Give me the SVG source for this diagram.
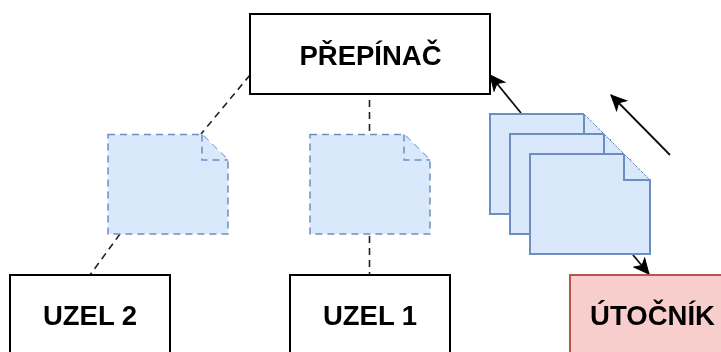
<svg xmlns="http://www.w3.org/2000/svg" width="721" height="352" viewBox="0 0 721 352">
<style>
.box{fill:#fff;stroke:#000;stroke-width:2}
.red{fill:#f8cecc;stroke:#b85450;stroke-width:2}
.docfill{fill:#dae8fc;stroke:none}
.doc{fill:none;stroke:#6c8ebf;stroke-width:2}
.diag{fill:none;stroke:#6c8ebf;stroke-width:1;stroke-dasharray:3 1}
.dashdoc{fill:#dae8fc;stroke:#6c8ebf;stroke-width:1.5;stroke-dasharray:7 5}
.dashed{fill:none;stroke:#222;stroke-width:1.6;stroke-dasharray:7 5}
.arrow{fill:none;stroke:#111;stroke-width:1.8}
.head{fill:#000;stroke:#000}
text{font-family:"Liberation Sans",Arial,sans-serif;font-weight:700;font-size:27.5px;fill:#000;text-anchor:middle}
</style>
<defs>
<filter id="soft" x="0" y="0" width="721" height="352" filterUnits="userSpaceOnUse"><feGaussianBlur stdDeviation="0.6"/></filter>
<marker id="arrow" viewBox="0 0 17 16" refX="16" refY="8" markerWidth="17" markerHeight="16" markerUnits="userSpaceOnUse" orient="auto">
<path class="head" d="M1 1 L16 8 L1 15 L5 8 Z"/>
</marker>
</defs>
<g filter="url(#soft)">
<g id="connectors">
<path class="dashed" d="M250 75 L201 134"/>
<path class="dashed" d="M120 234 L90 275"/>
<path class="dashed" d="M369.500 100 L369.500 134"/>
<path class="dashed" d="M369.500 236 L369.500 275"/>
<path class="arrow" d="M521 113 L490 75" marker-end="url(#arrow)"/>
<path class="arrow" d="M633 255 L649 274" marker-end="url(#arrow)"/>
<path class="arrow" d="M670 155 L611 95" marker-end="url(#arrow)"/>
</g>
<g id="prepinac"><rect class="box" x="250" y="14" width="240" height="80"/><text x="370.500" y="65">PŘEPÍNAČ</text></g>
<g id="uzel2"><rect class="box" x="10" y="275" width="160" height="90"/><text x="90" y="325">UZEL 2</text></g>
<g id="uzel1"><rect class="box" x="290" y="275" width="160" height="90"/><text x="370" y="325">UZEL 1</text></g>
<g id="utocnik"><rect class="red" x="570" y="275" width="160" height="90"/><text x="652.500" y="325">ÚTOČNÍK</text></g>
<g id="packet-dashed-1"><path class="dashdoc" d="M108 134.500 H202 L228 160 V234 H108 Z"/><path class="dashdoc" d="M202 134.500 V160 H228" fill="none"/></g>
<g id="packet-dashed-2"><path class="dashdoc" d="M310 134.500 H404 L430 160 V234 H310 Z"/><path class="dashdoc" d="M404 134.500 V160 H430" fill="none"/></g>
<g id="packet-1"><path class="docfill" d="M490 114 H584 L610 140 V214 H490 Z"/><path class="doc" d="M584 114 H490 V214 H610 V140 H584 V114"/><path class="diag" d="M584 114 L610 140"/></g>
<g id="packet-2"><path class="docfill" d="M510 134 H604 L630 160 V234 H510 Z"/><path class="doc" d="M604 134 H510 V234 H630 V160 H604 V134"/><path class="diag" d="M604 134 L630 160"/></g>
<g id="packet-3"><path class="docfill" d="M530 154 H624 L650 180 V254 H530 Z"/><path class="doc" d="M624 154 H530 V254 H650 V180 H624 V154"/><path class="diag" d="M624 154 L650 180"/></g>
</g>
</svg>
